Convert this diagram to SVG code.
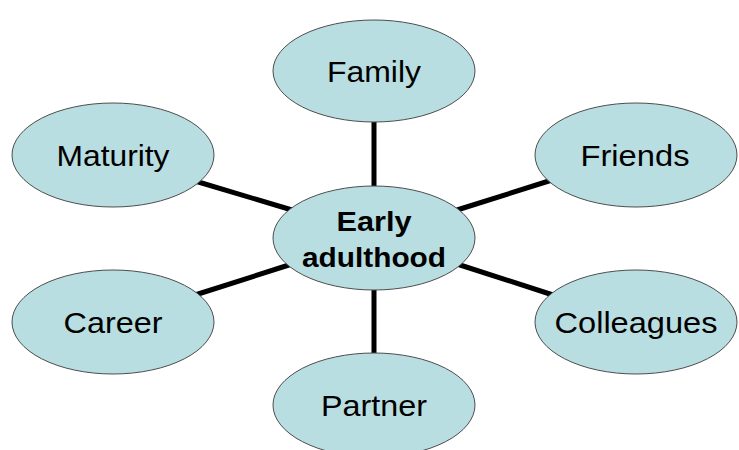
<svg xmlns="http://www.w3.org/2000/svg" width="739" height="450" viewBox="0 0 739 450">
<style>
.n{fill:#B9DEE1;stroke:#4d4d4d;stroke-width:1}
.t{font-family:"Liberation Sans",Arial,sans-serif;font-size:29px;fill:#000;text-anchor:middle}
.b{font-weight:bold;font-size:27px}
.c{stroke:#000;stroke-width:5;fill:none}
</style>
<rect width="739" height="450" fill="#fff"/>
<g id="connectors">
<line class="c" x1="374" y1="115" x2="374" y2="195"/>
<line class="c" x1="374" y1="280" x2="374" y2="362"/>
<line class="c" x1="195" y1="181" x2="292" y2="210"/>
<line class="c" x1="195" y1="295" x2="292" y2="264"/>
<line class="c" x1="457" y1="210" x2="552" y2="180"/>
<line class="c" x1="457" y1="264" x2="553" y2="295"/>
</g>
<g id="family"><ellipse class="n" cx="374" cy="71" rx="101" ry="51"/><text class="t" x="374" y="82" textLength="94" lengthAdjust="spacingAndGlyphs">Family</text></g>
<g id="maturity"><ellipse class="n" cx="113" cy="155" rx="101" ry="52"/><text class="t" x="113" y="166" textLength="113" lengthAdjust="spacingAndGlyphs">Maturity</text></g>
<g id="friends"><ellipse class="n" cx="636" cy="155" rx="101" ry="52"/><text class="t" x="635" y="166" textLength="109" lengthAdjust="spacingAndGlyphs">Friends</text></g>
<g id="early-adulthood"><ellipse class="n" cx="374" cy="238" rx="101" ry="52"/><text class="t b" x="374" y="231" textLength="75" lengthAdjust="spacingAndGlyphs">Early</text><text class="t b" x="374" y="267" textLength="144" lengthAdjust="spacingAndGlyphs">adulthood</text></g>
<g id="career"><ellipse class="n" cx="113" cy="322" rx="101" ry="52"/><text class="t" x="113" y="333" textLength="99" lengthAdjust="spacingAndGlyphs">Career</text></g>
<g id="colleagues"><ellipse class="n" cx="636" cy="322" rx="101" ry="52"/><text class="t" x="636" y="333" textLength="163" lengthAdjust="spacingAndGlyphs">Colleagues</text></g>
<g id="partner"><ellipse class="n" cx="374" cy="405" rx="101" ry="52"/><text class="t" x="374" y="416" textLength="106" lengthAdjust="spacingAndGlyphs">Partner</text></g>
</svg>
